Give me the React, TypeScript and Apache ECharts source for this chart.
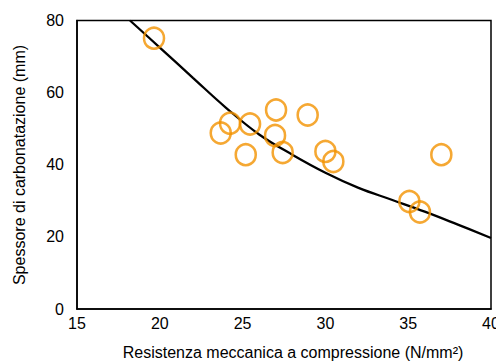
import React, { useEffect, useRef } from "react";
import * as echarts from "echarts";

const pointsX = [19.65, 23.68, 24.24, 25.45, 25.19, 27.02, 26.96, 27.42, 28.93, 30.0, 30.48, 35.07, 35.71, 37.0];
const pointsY = [75.1, 48.8, 51.5, 51.3, 42.8, 55.2, 48.1, 43.4, 53.8, 43.7, 40.9, 29.8, 26.9, 42.8];

const curveX = [18.2, 20, 22, 24, 26, 28, 30, 32, 34, 36, 38, 40];
const curveY = [80, 72.5, 64.1, 55.8, 48.4, 42.8, 37.8, 33.6, 30.3, 27.0, 23.4, 19.7];

const xTicks = [15, 20, 25, 30, 35, 40];
const yTicks = [0, 20, 40, 60, 80];

const xTitle = "Resistenza meccanica a compressione (N/mm²)";
const yTitle = "Spessore di carbonatazione (mm)";

const FONT = "'Liberation Sans', Arial, sans-serif";

export default function App() {
  const ref = useRef<HTMLDivElement>(null);
  useEffect(() => {
    document.body.style.margin = "0";
    if (!ref.current) return;
    const chart = echarts.init(ref.current, null, { renderer: "svg" });
    chart.setOption({
      animation: false,
      backgroundColor: "#ffffff",
      grid: {
        left: 77,
        right: 5,
        top: 20.5,
        bottom: 52,
        containLabel: false,
        outerBoundsMode: "none",
        show: true,
        borderColor: "#000",
        borderWidth: 1.5,
        backgroundColor: "transparent",
      },
      xAxis: {
        type: "value",
        min: xTicks[0],
        max: xTicks[xTicks.length - 1],
        interval: 5,
        axisLine: { show: true, lineStyle: { color: "#000", width: 1.5 } },
        axisTick: { show: false },
        splitLine: { show: false },
        axisLabel: { color: "#000", fontSize: 16, fontFamily: FONT, margin: 6, showMaxLabel: true, showMinLabel: true },
      },
      yAxis: {
        type: "value",
        min: yTicks[0],
        max: yTicks[yTicks.length - 1],
        interval: 20,
        axisLine: { show: true, lineStyle: { color: "#000", width: 1.5 } },
        axisTick: { show: false },
        splitLine: { show: false },
        axisLabel: { color: "#000", fontSize: 16, fontFamily: FONT, margin: 13 },
      },
      graphic: [
        {
          type: "text",
          x: 293,
          y: 352,
          style: {
            text: xTitle,
            fill: "#000",
            font: `16px ${FONT}`,
            align: "center",
            verticalAlign: "middle",
          },
        },
        {
          type: "text",
          x: 19,
          y: 165,
          rotation: Math.PI / 2,
          style: {
            text: yTitle,
            fill: "#000",
            font: `16px ${FONT}`,
            align: "center",
            verticalAlign: "middle",
          },
        },
      ],
      series: [
        {
          type: "line",
          data: curveX.map((x, i) => [x, curveY[i]]),
          smooth: 0.4,
          symbol: "none",
          lineStyle: { color: "#000", width: 2.3 },
          clip: true,
          z: 2,
        },
        {
          type: "scatter",
          data: pointsX.map((x, i) => [x, pointsY[i]]),
          symbol: "circle",
          symbolSize: [20, 21],
          itemStyle: { color: "rgba(0,0,0,0)", borderColor: "#F39200", borderWidth: 2.6 },
          z: 3,
        },
      ],
    });
    return () => chart.dispose();
  }, []);
  return <div ref={ref} style={{ width: 496, height: 361 }} />;
}
